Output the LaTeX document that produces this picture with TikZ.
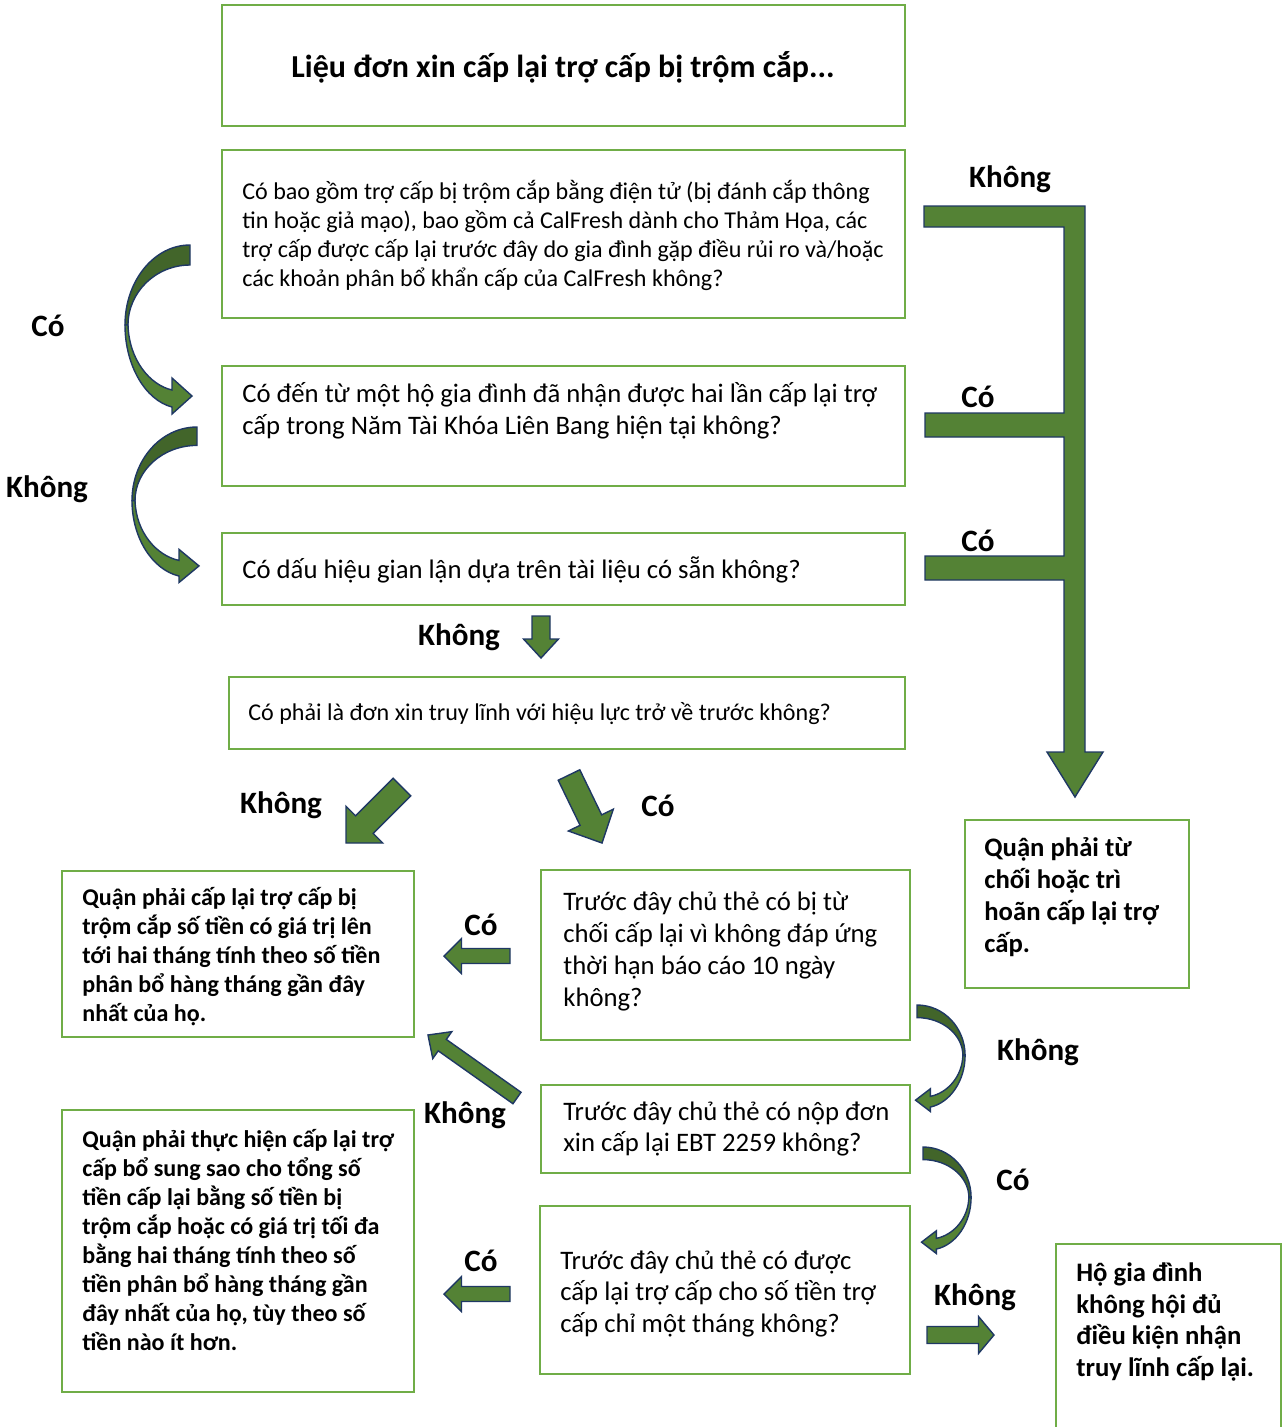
\documentclass[tikz,border=0pt]{standalone}
\usepackage{fontspec}
\setmainfont{Carlito}
\usetikzlibrary{calc,fit}
\definecolor{boxgreen}{HTML}{70AD47}
\definecolor{arrowgreen}{HTML}{548235}
\definecolor{arrowdark}{HTML}{42652A}
\definecolor{arrowedge}{HTML}{1F3864}
\tikzset{
	qbox/.style={draw=boxgreen, line width=1.5pt, inner sep=0pt, fit={#1}},
	qtext/.style={anchor=west, align=left, inner sep=0pt, font=\fontsize{15.2}{18.2}\selectfont},
	smalltext/.style={qtext, font=\fontsize{13.7}{16.5}\selectfont},
	boldtext/.style={qtext, font=\bfseries\fontsize{13.7}{16.5}\selectfont},
	bigbold/.style={qtext, font=\bfseries\fontsize{15.2}{18.2}\selectfont},
	lbl/.style={inner sep=0pt, font=\bfseries\fontsize{17.7}{21}\selectfont},
	arrowshape/.style={fill=arrowgreen, draw=arrowedge, line width=0.8pt, line join=miter}
}
\def\blockarrow(#1)(#2)(#3:#4:#5)% Syntax: (tail) (tip) (half shaft:half head:head length)
{ \coordinate (ba-b) at ($(#2)!#5!(#1)$);
  \filldraw[arrowshape] ($(#1)!#3!90:(#2)$) -- ($(ba-b)!#3!-90:(#1)$) -- ($(ba-b)!#4!-90:(#1)$) -- (#2)
	-- ($(ba-b)!#4!90:(#1)$) -- ($(ba-b)!#3!90:(#1)$) -- ($(#1)!#3!-90:(#2)$) -- cycle; }
\def\curvedarrow(#1)(#2:#3)% Syntax: (top end) (xscale:yscale)
{ \begin{scope}[shift={(#1)}, xscale=#2, yscale=#3]
	\filldraw[arrowshape, fill=arrowdark] (0,0) .. controls (-36,0) and (-65,36) .. (-65,80)
		-- (-62,80) .. controls (-62,47) and (-34,20) .. (0,20) -- cycle;
	\filldraw[arrowshape] (-65,80) .. controls (-65,120) and (-45,155) .. (-18,162)
		-- (-18,169) -- (2,151) -- (-18,133) -- (-18,145)
		.. controls (-40,140) and (-61,115) .. (-62,80) -- cycle;
  \end{scope} }
\begin{document}
\begin{tikzpicture}[x=0.02cm, y=-0.02cm]
	\useasboundingbox (0,0) rectangle (1285,1427);
	
	%boxes
	\node[qbox={(222,5) (905,126)}] (title) {};
	\node[qbox={(222,150) (905,318)}] (q1) {};
	\node[qbox={(222,366) (905,486)}] (q2) {};
	\node[qbox={(222,533) (905,605)}] (q3) {};
	\node[qbox={(229,677) (905,749)}] (q4) {};
	\node[qbox={(62,871) (414,1037)}] (r1) {};
	\node[qbox={(541,870) (910,1040)}] (q5) {};
	\node[qbox={(541,1085) (910,1173)}] (q6) {};
	\node[qbox={(540,1206) (910,1374)}] (q7) {};
	\node[qbox={(62,1110) (414,1392)}] (r2) {};
	\node[qbox={(965,820) (1189,988)}] (r3) {};
	\node[qbox={(1056,1244) (1281,1450)}] (r4) {};
	
	%box texts
	\node[inner sep=0pt, font=\bfseries\fontsize{18.2}{22}\selectfont] (titlet) at (563,67) {Liệu đơn xin cấp lại trợ cấp bị trộm cắp...};
	\node[smalltext] (q1t) at (242,235) {Có bao gồm trợ cấp bị trộm cắp bằng điện tử (bị đánh cắp thông\\ tin hoặc giả mạo), bao gồm cả CalFresh dành cho Thảm Họa, các\\ trợ cấp được cấp lại trước đây do gia đình gặp điều rủi ro và/hoặc\\ các khoản phân bổ khẩn cấp của CalFresh không?};
	\node[qtext] (q2t) at (242,411) {Có đến từ một hộ gia đình đã nhận được hai lần cấp lại trợ\\ cấp trong Năm Tài Khóa Liên Bang hiện tại không?};
	\node[qtext] (q3t) at (242,570) {Có dấu hiệu gian lận dựa trên tài liệu có sẵn không?};
	\node[qtext, font=\fontsize{13.7}{16.5}\selectfont] (q4t) at (248,714) {Có phải là đơn xin truy lĩnh với hiệu lực trở về trước không?};
	\node[boldtext] (r1t) at (82,957) {Quận phải cấp lại trợ cấp bị\\ trộm cắp số tiền có giá trị lên\\ tới hai tháng tính theo số tiền\\ phân bổ hàng tháng gần đây\\ nhất của họ.};
	\node[qtext] (q5t) at (563,951) {Trước đây chủ thẻ có bị từ\\ chối cấp lại vì không đáp ứng\\ thời hạn báo cáo 10 ngày\\ không?};
	\node[qtext] (q6t) at (563,1129) {Trước đây chủ thẻ có nộp đơn\\ xin cấp lại EBT 2259 không?};
	\node[qtext] (q7t) at (560,1294) {Trước đây chủ thẻ có được\\ cấp lại trợ cấp cho số tiền trợ\\ cấp chỉ một tháng không?};
	\node[boldtext] (r2t) at (82,1240) {Quận phải thực hiện cấp lại trợ\\ cấp bổ sung sao cho tổng số\\ tiền cấp lại bằng số tiền bị\\ trộm cắp hoặc có giá trị tối đa\\ bằng hai tháng tính theo số\\ tiền phân bổ hàng tháng gần\\ đây nhất của họ, tùy theo số\\ tiền nào ít hơn.};
	\node[bigbold] (r3t) at (984,897) {Quận phải từ\\ chối hoặc trì\\ hoãn cấp lại trợ\\ cấp.};
	\node[bigbold] (r4t) at (1076,1322) {Hộ gia đình\\ không hội đủ\\ điều kiện nhận\\ truy lĩnh cấp lại.};
	
	%answer labels
	\node[lbl] (khong1) at (1010,179) {Không};
	\node[lbl] (co1) at (48,326) {Có};
	\node[lbl] (co2) at (978,397) {Có};
	\node[lbl] (khong2) at (47,489) {Không};
	\node[lbl] (co3) at (978,541) {Có};
	\node[lbl] (khong3) at (459,637) {Không};
	\node[lbl] (khong4) at (281,805) {Không};
	\node[lbl] (co4) at (658,806) {Có};
	\node[lbl] (co5) at (481,925) {Có};
	\node[lbl] (khong5) at (1038,1052) {Không};
	\node[lbl] (khong6) at (465,1115) {Không};
	\node[lbl] (co6) at (1013,1180) {Có};
	\node[lbl] (co7) at (481,1261) {Có};
	\node[lbl] (khong7) at (975,1297) {Không};
	
	%big arrow on the right
	\filldraw[arrowshape] (924,206) -- (1085,206) -- (1085,752) -- (1103,752) -- (1075,797) -- (1047,752)
		-- (1064,752) -- (1064,580) -- (925,580) -- (925,556) -- (1064,556) -- (1064,437)
		-- (925,437) -- (925,413) -- (1064,413) -- (1064,227) -- (924,227) -- cycle;
	
	%curved arrows
	\curvedarrow(190,245)(1:1)				%Co, left
	\curvedarrow(197,427)(1:0.92)			%Khong, left
	\curvedarrow(917,1005)(-0.74:0.63)		%Khong, right
	\curvedarrow(923,1147)(-0.74:0.63)		%Co, right
	
	%straight arrows
	\coordinate (a1t) at (541,616);		\coordinate (a1h) at (541,658);
	\coordinate (a2t) at (402,787);		\coordinate (a2h) at (346,843);
	\coordinate (a3t) at (569,775);		\coordinate (a3h) at (602,843);
	\coordinate (a4t) at (510,956);		\coordinate (a4h) at (444,956);
	\coordinate (a5t) at (517,1098);	\coordinate (a5h) at (428,1035);
	\coordinate (a6t) at (510,1294);	\coordinate (a6h) at (444,1294);
	\coordinate (a7t) at (927,1335);	\coordinate (a7h) at (994,1335);
	\blockarrow(a1t)(a1h)(0.18cm:0.35cm:0.38cm)		%down
	\blockarrow(a2t)(a2h)(0.25cm:0.52cm:0.52cm)		%down-left
	\blockarrow(a3t)(a3h)(0.24cm:0.5cm:0.51cm)		%down-right
	\blockarrow(a4t)(a4h)(0.15cm:0.35cm:0.35cm)		%left
	\blockarrow(a5t)(a5h)(0.14cm:0.33cm:0.35cm)		%up-left
	\blockarrow(a6t)(a6h)(0.15cm:0.35cm:0.35cm)		%left
	\blockarrow(a7t)(a7h)(0.17cm:0.37cm:0.31cm)		%right
\end{tikzpicture}
\end{document}
